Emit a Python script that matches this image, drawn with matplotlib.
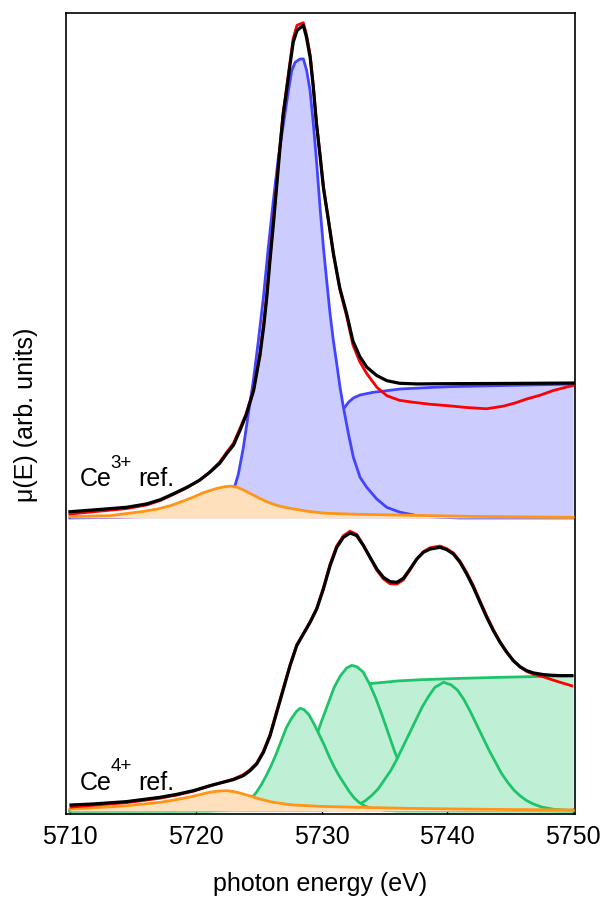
import numpy as np
import matplotlib
matplotlib.use("Agg")
import matplotlib.pyplot as plt

plt.rcParams['font.family'] = ['Liberation Sans', 'DejaVu Sans']

# ---- Ce3+ reference (normalised, own baseline) ----
ce3_offset = 2.254

ce3_fit_x = [5710.0, 5711.9, 5714.5, 5716.1, 5717.2, 5718.2, 5719.3, 5720.3, 5721.1, 5721.9,
             5722.5, 5723.0, 5723.5, 5724.0, 5724.6, 5725.1, 5725.4, 5725.65, 5725.9, 5726.2,
             5726.45, 5726.7, 5726.95, 5727.25, 5727.5, 5727.75, 5728.05, 5728.55, 5728.8, 5729.1,
             5729.35, 5729.6, 5729.9, 5730.15, 5730.55, 5730.95, 5731.45, 5732.0, 5732.5, 5733.05,
             5733.6, 5734.4, 5735.2, 5736.2, 5737.6, 5740.0, 5745.0, 5750.0]
ce3_fit = [0.048, 0.062, 0.082, 0.108, 0.141, 0.185, 0.236, 0.29, 0.35, 0.42,
           0.50, 0.56, 0.67, 0.79, 0.98, 1.25, 1.47, 1.70, 1.98, 2.29,
           2.57, 2.85, 3.10, 3.31, 3.49, 3.66, 3.75, 3.79, 3.70, 3.54,
           3.31, 3.03, 2.77, 2.54, 2.29, 2.03, 1.77, 1.57, 1.36, 1.24,
           1.16, 1.095, 1.056, 1.036, 1.031, 1.033, 1.035, 1.038]

ce3_data_x = [5710.0, 5711.9, 5714.5, 5716.1, 5717.2, 5718.2, 5719.3, 5720.3, 5721.1, 5721.9,
              5722.5, 5723.0, 5723.5, 5724.0, 5724.6, 5725.1, 5725.4, 5725.65, 5725.9, 5726.2,
              5726.45, 5726.7, 5726.95, 5727.25, 5727.5, 5727.75, 5728.05, 5728.55, 5728.8, 5729.1,
              5729.35, 5729.6, 5729.9, 5730.15, 5730.55, 5730.95, 5731.45, 5732.0, 5732.5, 5733.05,
              5733.6, 5734.4, 5735.2, 5736.2, 5737.3, 5738.6, 5740.0, 5741.5, 5743.1, 5744.45,
              5745.4, 5746.3, 5747.4, 5748.4, 5750.0]
ce3_data = [0.03, 0.048, 0.072, 0.10, 0.135, 0.18, 0.232, 0.29, 0.352, 0.43,
            0.51, 0.575, 0.685, 0.80, 0.99, 1.26, 1.49, 1.72, 2.00, 2.31,
            2.59, 2.87, 3.12, 3.33, 3.51, 3.69, 3.79, 3.81, 3.72, 3.56,
            3.32, 3.04, 2.78, 2.55, 2.29, 2.03, 1.76, 1.55, 1.33, 1.20,
            1.11, 1.005, 0.94, 0.905, 0.89, 0.875, 0.864, 0.85, 0.84, 0.86,
            0.885, 0.915, 0.945, 0.98, 1.02]

ce3_peak_x = [5710.0, 5714.0, 5717.0, 5719.0, 5720.5, 5721.5, 5722.3, 5722.8, 5723.12, 5723.39,
              5723.79, 5724.18, 5724.58, 5724.98, 5725.38, 5725.77, 5726.17, 5726.57, 5726.97, 5727.37,
              5727.63, 5727.9, 5728.29, 5728.56, 5728.82, 5729.09, 5729.35, 5729.62, 5729.88, 5730.15,
              5730.41, 5730.68, 5730.94, 5731.21, 5731.47, 5731.74, 5732.14, 5732.53, 5733.06, 5733.59,
              5734.39, 5735.18, 5736.24, 5737.57, 5739.0, 5741.0, 5750.0]
ce3_peak = [0.0, 0.005, 0.015, 0.03, 0.06, 0.10, 0.16, 0.20, 0.249, 0.338,
            0.544, 0.80, 1.056, 1.364, 1.697, 2.082, 2.441, 2.774, 3.031, 3.287,
            3.441, 3.505, 3.531, 3.531, 3.441, 3.287, 3.031, 2.723, 2.390, 2.082,
            1.826, 1.569, 1.364, 1.185, 1.005, 0.851, 0.646, 0.467, 0.313, 0.236,
            0.146, 0.082, 0.044, 0.018, 0.007, 0.0, 0.0]

ce3_step_x = [5731.2, 5731.74, 5732.14, 5732.53, 5733.06, 5734.12, 5735.18, 5736.24, 5738.89, 5740.22,
              5745.0, 5750.0]
ce3_step = [0.76, 0.838, 0.89, 0.923, 0.946, 0.967, 0.979, 0.992, 1.005, 1.01,
            1.02, 1.03]

ce3_pre_x = [5710.0, 5713.2, 5715.8, 5717.0, 5718.0, 5719.0, 5719.8, 5720.5, 5721.1, 5721.7,
             5722.3, 5722.8, 5723.3, 5723.8, 5724.3, 5725.0, 5725.65, 5726.2, 5726.7, 5727.75,
             5729.0, 5730.4, 5733.0, 5735.7, 5742.0, 5750.0]
ce3_pre = [0.01, 0.018, 0.05, 0.07, 0.095, 0.13, 0.16, 0.19, 0.21, 0.228,
           0.24, 0.245, 0.236, 0.215, 0.19, 0.155, 0.125, 0.105, 0.09, 0.07,
           0.05, 0.036, 0.028, 0.023, 0.012, 0.005]

# ---- Ce4+ reference ----
ce4_fit_x = [5710.09, 5711.86, 5714.51, 5717.16, 5718.49, 5719.81, 5721.14, 5721.93, 5722.99, 5723.79,
             5724.32, 5724.85, 5725.38, 5725.91, 5726.44, 5726.97, 5727.50, 5728.03, 5728.56, 5729.09,
             5729.62, 5730.15, 5730.68, 5731.21, 5731.74, 5732.27, 5732.80, 5733.33, 5733.86, 5734.39,
             5734.92, 5735.45, 5735.98, 5736.51, 5737.04, 5737.57, 5738.10, 5738.63, 5739.42, 5739.95,
             5740.48, 5741.01, 5741.54, 5742.07, 5742.60, 5743.13, 5743.66, 5744.19, 5744.72, 5745.25,
             5745.78, 5746.31, 5746.84, 5747.64, 5748.30, 5748.96, 5749.89]
ce4_fit = [0.046, 0.054, 0.072, 0.105, 0.128, 0.156, 0.195, 0.215, 0.241, 0.272,
           0.31, 0.362, 0.451, 0.579, 0.759, 0.938, 1.118, 1.272, 1.362, 1.451,
           1.554, 1.708, 1.887, 2.028, 2.105, 2.138, 2.118, 2.041, 1.951, 1.862,
           1.797, 1.764, 1.759, 1.790, 1.862, 1.938, 1.990, 2.015, 2.028, 2.010,
           1.977, 1.913, 1.823, 1.721, 1.605, 1.490, 1.387, 1.297, 1.221, 1.156,
           1.110, 1.079, 1.062, 1.049, 1.044, 1.041, 1.041]
ce4_data = [0.03, 0.044, 0.064, 0.098, 0.122, 0.152, 0.192, 0.215, 0.245, 0.28,
            0.318, 0.37, 0.46, 0.59, 0.77, 0.948, 1.125, 1.278, 1.366, 1.455,
            1.56, 1.718, 1.9, 2.04, 2.118, 2.152, 2.128, 2.045, 1.948, 1.852,
            1.785, 1.748, 1.745, 1.778, 1.855, 1.938, 1.995, 2.025, 2.038, 2.018,
            1.985, 1.922, 1.834, 1.733, 1.616, 1.50, 1.395, 1.302, 1.224, 1.156,
            1.107, 1.074, 1.052, 1.032, 1.01, 0.99, 0.963]

ce4_p1_x = [5710.0, 5721.0, 5722.0, 5722.5, 5723.0, 5723.5, 5724.0, 5724.4, 5724.8, 5725.2,
            5725.6, 5726.0, 5726.4, 5726.8, 5727.2, 5727.6, 5728.0, 5728.3, 5728.6, 5729.0,
            5729.4, 5729.8, 5730.2, 5730.6, 5731.0, 5731.4, 5731.8, 5732.2, 5732.6, 5733.0,
            5733.5, 5734.0, 5735.0, 5736.0, 5750.0]
ce4_p1 = [0.0, 0.0, 0.004, 0.008, 0.016, 0.033, 0.06, 0.095, 0.14, 0.20,
          0.27, 0.35, 0.44, 0.54, 0.64, 0.71, 0.765, 0.79, 0.78, 0.74,
          0.67, 0.59, 0.51, 0.42, 0.34, 0.27, 0.21, 0.15, 0.10, 0.065,
          0.035, 0.018, 0.005, 0.0, 0.0]

ce4_p2_x = [5710.0, 5724.0, 5725.0, 5726.0, 5726.5, 5727.0, 5727.5, 5728.0, 5728.5, 5729.0,
            5729.5, 5730.0, 5730.5, 5731.0, 5731.5, 5732.0, 5732.4, 5732.8, 5733.3, 5733.8,
            5734.3, 5734.8, 5735.3, 5735.8, 5736.3, 5736.8, 5737.3, 5737.8, 5738.3, 5739.0,
            5740.0, 5750.0]
ce4_p2 = [0.0, 0.003, 0.01, 0.035, 0.06, 0.10, 0.15, 0.22, 0.31, 0.43,
          0.55, 0.69, 0.82, 0.95, 1.04, 1.10, 1.12, 1.11, 1.07, 0.98,
          0.87, 0.74, 0.60, 0.46, 0.34, 0.24, 0.16, 0.10, 0.06, 0.03,
          0.01, 0.0]

ce4_p3_x = [5710.0, 5729.0, 5730.0, 5731.0, 5732.0, 5733.0, 5733.5, 5734.0, 5734.5, 5735.0,
            5735.5, 5736.0, 5736.5, 5737.0, 5737.5, 5738.0, 5738.5, 5739.0, 5739.7, 5740.3,
            5740.8, 5741.3, 5741.8, 5742.3, 5742.8, 5743.3, 5743.8, 5744.3, 5744.8, 5745.3,
            5745.8, 5746.3, 5746.8, 5747.5, 5748.5, 5750.0]
ce4_p3 = [0.0, 0.003, 0.005, 0.01, 0.025, 0.05, 0.08, 0.12, 0.17, 0.24,
          0.31, 0.40, 0.50, 0.60, 0.70, 0.80, 0.88, 0.95, 0.99, 0.97,
          0.93, 0.86, 0.77, 0.67, 0.57, 0.47, 0.38, 0.29, 0.22, 0.16,
          0.115, 0.08, 0.055, 0.03, 0.012, 0.003]

ce4_step_x = [5733.0, 5733.85, 5735.0, 5736.0, 5738.0, 5741.0, 5745.0, 5750.0]
ce4_step = [0.96, 0.98, 0.99, 1.00, 1.01, 1.02, 1.03, 1.04]

ce4_pre_x = [5710.0, 5712.0, 5714.5, 5717.2, 5718.5, 5719.8, 5720.5, 5721.1, 5721.8, 5722.5,
             5723.1, 5723.8, 5724.5, 5725.1, 5726.0, 5727.0, 5727.75, 5730.0, 5733.0, 5737.0,
             5741.0, 5745.0, 5750.0]
ce4_pre = [0.015, 0.025, 0.04, 0.067, 0.088, 0.113, 0.13, 0.144, 0.153, 0.156,
           0.148, 0.13, 0.11, 0.092, 0.07, 0.055, 0.046, 0.035, 0.028, 0.02,
           0.015, 0.011, 0.008]

labels = [('3+', ce3_offset + 0.25), ('4+', 0.17)]

blue_line, blue_fill = '#4444ff', '#ccccff'
green_line, green_fill = '#1ec46a', '#bff0d6'
orange_line, orange_fill = '#ff9416', '#ffe0bd'

fig = plt.figure(figsize=(6.03, 9.04), dpi=100)
ax = fig.add_axes([0.1095, 0.0985, 0.8441, 0.8855])


def component(x, y, off, lc, fc, z, lw=2.0):
    x = np.asarray(x)
    y = np.asarray(y) + off
    ax.fill_between(x, off, y, color=fc, lw=0, zorder=z)
    ax.plot(x, y, color=lc, lw=lw, zorder=z + 0.1, solid_joinstyle='round')


# Ce3+ components
component(ce3_step_x, ce3_step, ce3_offset, blue_line, blue_fill, 1)
component(ce3_peak_x, ce3_peak, ce3_offset, blue_line, blue_fill, 2)
component(ce3_pre_x, ce3_pre, ce3_offset, orange_line, orange_fill, 3)
ax.plot(ce3_data_x, np.array(ce3_data) + ce3_offset, color='#ff0000', lw=2.0, zorder=5)
ax.plot(ce3_fit_x, np.array(ce3_fit) + ce3_offset, color='black', lw=2.3, zorder=6)

# Ce4+ components
component(ce4_step_x, ce4_step, 0, green_line, green_fill, 1)
component(ce4_p2_x, ce4_p2, 0, green_line, green_fill, 2)
component(ce4_p3_x, ce4_p3, 0, green_line, green_fill, 2.5)
component(ce4_p1_x, ce4_p1, 0, green_line, green_fill, 3)
component(ce4_pre_x, ce4_pre, 0, orange_line, orange_fill, 3.5)
ax.plot(ce4_fit_x, ce4_data, color='#ff0000', lw=2.0, zorder=5)
ax.plot(ce4_fit_x, ce4_fit, color='black', lw=2.3, zorder=6)

# "Ce^n+ ref." labels built from three pieces
for sup, ybase in labels:
    ax.annotate('Ce', (5710.8, ybase), fontsize=18, va='baseline', zorder=7)
    ax.annotate(sup, (5710.8, ybase), xytext=(22, 13.5), textcoords='offset points',
                fontsize=13.5, va='baseline', zorder=7)
    ax.annotate('ref.', (5710.8, ybase), xytext=(42, 0), textcoords='offset points',
                fontsize=18, va='baseline', zorder=7)

ax.set_xlim(5709.69, 5750.15)
ax.set_ylim(-0.023, 6.135)
ax.set_xticks([5710, 5720, 5730, 5740, 5750])
ax.set_yticks([])
ax.tick_params(axis='x', direction='in', length=4, width=1, labelsize=18, pad=7)
for s in ax.spines.values():
    s.set_linewidth(1.2)
ax.set_xlabel('photon energy (eV)', fontsize=18, labelpad=17)
ax.set_ylabel('\u03bc(E) (arb. units)', fontsize=18, labelpad=20)

fig.savefig('out.png', dpi=100)
